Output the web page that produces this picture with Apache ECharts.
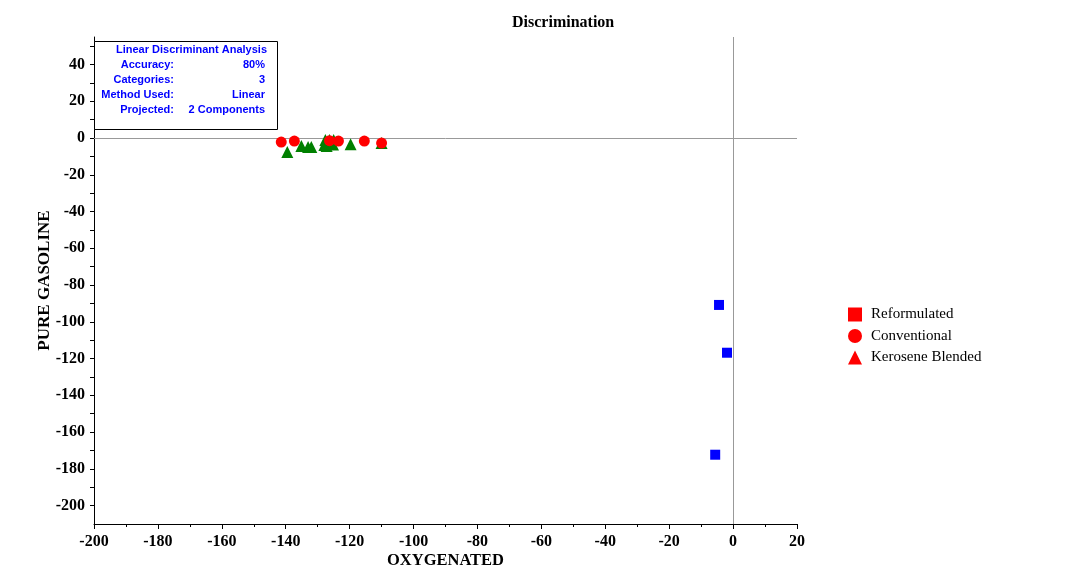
<!DOCTYPE html>
<html>
<head>
<meta charset="utf-8">
<script src="https://cdn.jsdelivr.net/npm/echarts@6/dist/echarts.min.js"></script>
<style>
html,body{margin:0;padding:0;background:#fff;}
#chart{width:1078px;height:585px;}
</style>
</head>
<body>
<div id="chart"></div>
<script>
var seriesNames = ['Reformulated', 'Conventional', 'Kerosene Blended'];
var reformulatedX = [-4.4, -1.9, -5.6];
var reformulatedY = [-90.8, -116.8, -172.3];
var conventionalX = [-141.4, -137.3, -126.3, -123.5, -115.4, -110.0];
var conventionalY = [-2.2, -1.6, -1.4, -1.6, -1.6, -2.7];
var keroseneX = [-139.5, -135.1, -133.0, -132.0, -127.9, -127.2, -127.6, -126.3, -125.0, -125.2, -119.7, -110.0];
var keroseneY = [-7.6, -4.3, -4.9, -4.9, -3.8, -4.3, -1.0, -1.0, -1.0, -3.5, -3.3, -2.7];
var xTicks = [-200, -180, -160, -140, -120, -100, -80, -60, -40, -20, 0, 20];
var yTickLabels = [40, 20, 0, -20, -40, -60, -80, -100, -120, -140, -160, -180, -200];
var infoLabels = ['Accuracy:', 'Categories:', 'Method Used:', 'Projected:'];
var infoValues = ['80%', '3', 'Linear', '2 Components'];
var infoTitle = 'Linear Discriminant Analysis';

function pairs(xs, ys) { return xs.map(function (x, i) { return [x, ys[i]]; }); }

var chart = echarts.init(document.getElementById('chart'));
var serif = '"Liberation Serif", "Times New Roman", serif';
var sans = '"Liberation Sans", Arial, sans-serif';

var infoGraphics = [{
  type: 'rect', left: 94, top: 41, z: 100,
  shape: { width: 183, height: 88 },
  style: { fill: '#fff', stroke: '#000', lineWidth: 1 }
}, {
  type: 'text', z: 101, x: 267, y: 50,
  style: { text: infoTitle, align: 'right', verticalAlign: 'middle', fill: '#0000ff', font: 'bold 11px ' + sans }
}];
infoLabels.forEach(function (l, i) {
  infoGraphics.push({ type: 'text', z: 101, x: 174, y: 65 + i * 14.9,
    style: { text: l, align: 'right', verticalAlign: 'middle', fill: '#0000ff', font: 'bold 11px ' + sans } });
  infoGraphics.push({ type: 'text', z: 101, x: 265, y: 65 + i * 14.9,
    style: { text: infoValues[i], align: 'right', verticalAlign: 'middle', fill: '#0000ff', font: 'bold 11px ' + sans } });
});

chart.setOption({
  animation: false,
  backgroundColor: '#fff',
  title: {
    text: 'Discrimination', left: 507, top: 10,
    textStyle: { fontFamily: serif, fontWeight: 'bold', fontSize: 16, color: '#000' }
  },
  grid: { left: 94, right: 281, top: 37, bottom: 61, containLabel: false },
  legend: {
    orient: 'vertical', left: 843, top: 302, itemWidth: 14, itemHeight: 14, itemGap: 6.5,
    textStyle: { fontFamily: serif, fontSize: 15, color: '#000', padding: [0, 0, 0, 4] },
    data: [
      { name: seriesNames[0], icon: 'rect', itemStyle: { color: '#ff0000', opacity: 1 } },
      { name: seriesNames[1], icon: 'circle', itemStyle: { color: '#ff0000', opacity: 1 } },
      { name: seriesNames[2], icon: 'triangle', itemStyle: { color: '#ff0000', opacity: 1 } }
    ]
  },
  xAxis: {
    type: 'value', min: xTicks[0], max: xTicks[xTicks.length - 1], interval: 20,
    name: 'OXYGENATED', nameLocation: 'middle', nameGap: 28, nameMoveOverlap: false,
    nameTextStyle: { fontFamily: serif, fontWeight: 'bold', fontSize: 16.5, color: '#000' },
    axisLine: { onZero: false, lineStyle: { color: '#000', width: 1 } },
    axisTick: { show: true, length: 5, lineStyle: { color: '#000' } },
    minorTick: { show: true, splitNumber: 2, length: 3, lineStyle: { color: '#000' } },
    axisLabel: { fontFamily: serif, fontWeight: 'bold', fontSize: 16, color: '#000', margin: 10 },
    splitLine: { show: false }
  },
  yAxis: {
    type: 'value', min: -210, max: 55, interval: 10,
    name: 'PURE GASOLINE', nameLocation: 'middle', nameGap: 41, nameRotate: 90, nameMoveOverlap: false,
    nameTextStyle: { fontFamily: serif, fontWeight: 'bold', fontSize: 17, color: '#000' },
    axisLine: { onZero: false, lineStyle: { color: '#000', width: 1 } },
    axisTick: { show: true, length: 4, lineStyle: { color: '#000' } },
    axisLabel: {
      fontFamily: serif, fontWeight: 'bold', fontSize: 16, color: '#000', margin: 9,
      showMinLabel: false, showMaxLabel: false,
      formatter: function (v) { return yTickLabels.indexOf(v) >= 0 ? String(v) : ''; }
    },
    splitLine: { show: false }
  },
  series: [{
    name: seriesNames[0], type: 'scatter', symbol: 'rect', symbolSize: 10,
    itemStyle: { color: '#0000ff', opacity: 1 }, z: 3,
    data: pairs(reformulatedX, reformulatedY),
    markLine: {
      silent: true, symbol: 'none', label: { show: false },
      lineStyle: { color: '#999', type: 'solid', width: 1 },
      data: [{ xAxis: 0 }, { yAxis: 0 }], z: 1
    }
  }, {
    name: seriesNames[2], type: 'scatter', symbol: 'triangle', symbolSize: 12,
    itemStyle: { color: '#008000', opacity: 1 }, z: 3,
    data: pairs(keroseneX, keroseneY)
  }, {
    name: seriesNames[1], type: 'scatter', symbol: 'circle', symbolSize: 11,
    itemStyle: { color: '#ff0000', opacity: 1 }, z: 4,
    data: pairs(conventionalX, conventionalY)
  }],
  graphic: infoGraphics
});
</script>
</body>
</html>
